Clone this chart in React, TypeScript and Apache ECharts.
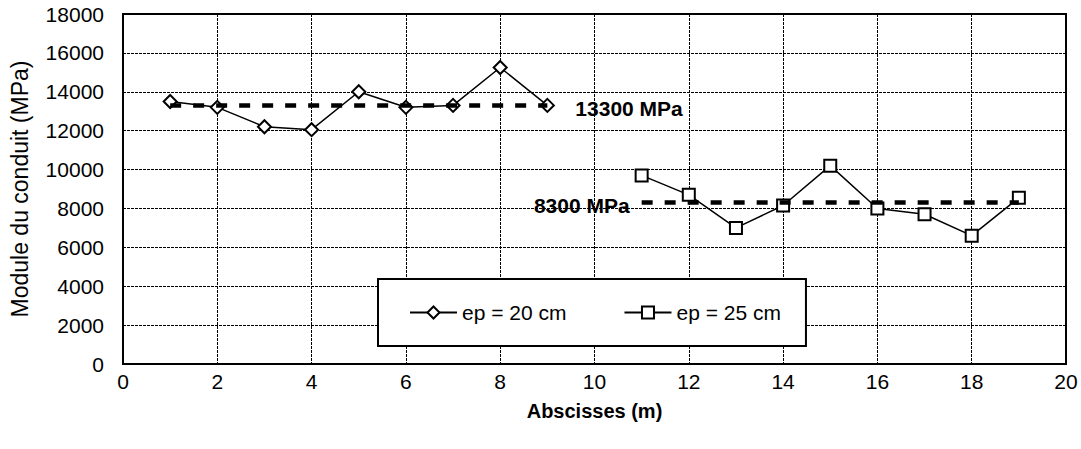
import React, { useEffect, useRef } from "react";
import * as echarts from "echarts";

// ---- data ----
const X_EP20 = [1, 2, 3, 4, 5, 6, 7, 8, 9];
const EP20 = [13500, 13200, 12200, 12050, 14000, 13200, 13300, 15250, 13300];
const X_EP25 = [11, 12, 13, 14, 15, 16, 17, 18, 19];
const EP25 = [9700, 8700, 7000, 8150, 10200, 8000, 7700, 6600, 8550];
const MEAN20 = 13300;
const MEAN25 = 8300;
const SERIES_NAMES = ["ep = 20 cm", "ep = 25 cm"];
const X_MIN = 0, X_MAX = 20, X_STEP = 2;
const Y_MIN = 0, Y_MAX = 18000, Y_STEP = 2000;

const FONT = "'Liberation Sans', Arial, sans-serif";

export default function App() {
  const ref = useRef<HTMLDivElement>(null);
  useEffect(() => {
    if (!ref.current) return;
    const chart = echarts.init(ref.current, undefined, { renderer: "svg" });
    const gridLine = { show: true, lineStyle: { color: "#000", width: 1, type: [3, 1] } };
    const meanLine = (value: number, from: number, to: number, pos: "start" | "end", dist: number) => ({
      silent: true,
      symbol: ["none", "none"],
      lineStyle: { color: "#000", width: 4.5, type: [11, 12] },
      label: {
        show: true,
        position: pos,
        distance: dist,
        formatter: `${value} MPa`,
        color: "#000",
        fontWeight: "bold",
        fontSize: 21,
        fontFamily: FONT,
        offset: [0, 3],
      },
      data: [[{ coord: [from, value] }, { coord: [to, value] }]],
    });
    chart.setOption({
      animation: false,
      backgroundColor: "#fff",
      textStyle: { fontFamily: FONT },
      grid: {
        left: 123,
        right: 15,
        top: 14,
        bottom: 85,
        show: true,
        borderColor: "#000",
        borderWidth: 2,
        backgroundColor: "transparent",
      },
      legend: {
        data: SERIES_NAMES,
        left: 378,
        top: 279,
        orient: "horizontal",
        padding: [23, 25, 23, 31],
        itemGap: 57,
        itemWidth: 47,
        itemHeight: 15,
        borderColor: "#000",
        borderWidth: 2,
        backgroundColor: "#fff",
        borderRadius: 0,
        textStyle: { fontSize: 21, color: "#000", fontFamily: FONT },
        selectedMode: false,
      },
      xAxis: {
        type: "value",
        min: X_MIN,
        max: X_MAX,
        interval: X_STEP,
        name: "Abscisses (m)",
        nameLocation: "middle",
        nameGap: 37,
        nameTextStyle: { fontSize: 20, fontWeight: "bold", color: "#000", fontFamily: FONT },
        axisLine: { show: true, lineStyle: { color: "#000", width: 2 } },
        axisTick: { show: false },
        axisLabel: { fontSize: 21, color: "#000", margin: 7, fontFamily: FONT },
        splitLine: gridLine,
      },
      yAxis: {
        type: "value",
        min: Y_MIN,
        max: Y_MAX,
        interval: Y_STEP,
        name: "Module du conduit (MPa)",
        nameLocation: "middle",
        nameGap: 92,
        nameTextStyle: { fontSize: 23, color: "#000", fontFamily: FONT },
        axisLine: { show: true, lineStyle: { color: "#000", width: 2 } },
        axisTick: { show: false },
        axisLabel: { fontSize: 21, color: "#000", margin: 19, fontFamily: FONT, formatter: (v: number) => String(v) },
        splitLine: gridLine,
      },
      series: [
        {
          name: SERIES_NAMES[0],
          type: "line",
          data: X_EP20.map((x, i) => [x, EP20[i]]),
          symbol: "emptyDiamond",
          symbolSize: 13,
          color: "#000",
          lineStyle: { color: "#000", width: 1.5 },
          itemStyle: { color: "#000", borderWidth: 1.5 },
          markLine: meanLine(MEAN20, X_EP20[0], X_EP20[X_EP20.length - 1], "end", 28),
          z: 3,
        },
        {
          name: SERIES_NAMES[1],
          type: "line",
          data: X_EP25.map((x, i) => [x, EP25[i]]),
          symbol: "emptyRect",
          symbolSize: 12,
          color: "#000",
          lineStyle: { color: "#000", width: 1.5 },
          itemStyle: { color: "#000", borderWidth: 1.5 },
          markLine: meanLine(MEAN25, X_EP25[0], X_EP25[X_EP25.length - 1], "start", 12),
          z: 3,
        },
      ],
    });
    return () => chart.dispose();
  }, []);
  return <div ref={ref} style={{ width: 1081, height: 449, position: "absolute", left: 0, top: 0 }} />;
}
